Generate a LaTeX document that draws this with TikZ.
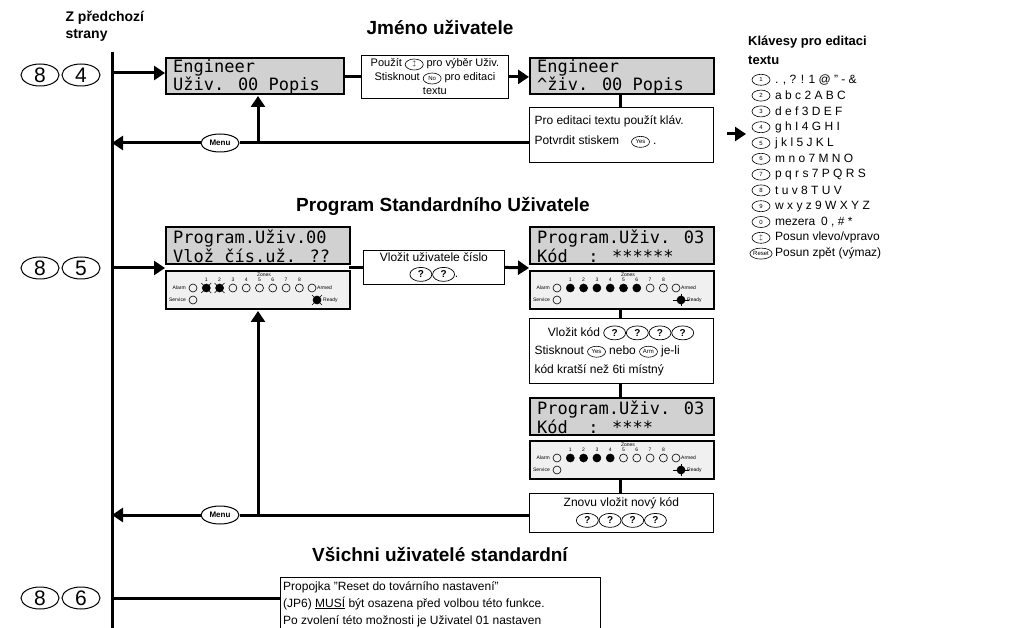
\documentclass[tikz,border=0pt]{standalone}
\usepackage{fontspec}
\setmainfont{Liberation Sans}
\newfontfamily\lcdfont{DejaVu Sans Mono}
\usetikzlibrary{shapes.geometric,arrows.meta}
\tikzset{
 lcd/.style={draw,line width=1.6pt,fill=black!18,anchor=north west,inner sep=0pt},
 panel/.style={draw,line width=1.6pt,fill=black!6,inner sep=0pt},
 tbox/.style={draw,line width=0.8pt,fill=white,inner sep=2pt,font=\fontsize{12}{15}\selectfont},
 flow/.style={line width=3pt},
 arr/.style={flow,-{Triangle[length=11pt,width=14pt]}},
 bigkey/.style={ellipse,draw,line width=1pt,minimum width=38pt,minimum height=22pt,inner sep=0pt,font=\fontsize{21}{21}\selectfont},
 key/.style={ellipse,draw,line width=0.6pt,minimum width=18pt,minimum height=11pt,inner sep=0pt,font=\fontsize{6}{6}\selectfont},
 qkey/.style={ellipse,draw,line width=0.7pt,minimum width=22pt,minimum height=14pt,inner sep=0pt,font=\fontsize{10}{10}\selectfont\bfseries},
 title/.style={font=\fontsize{19}{22}\selectfont\bfseries},
 led/.style={circle,draw,line width=0.6pt,minimum size=8pt,inner sep=0pt},
 tiny/.style={font=\fontsize{5}{5}\selectfont,inner sep=0pt},
 lcdt/.style={anchor=west,inner sep=0pt,align=left,font=\lcdfont\fontsize{17}{16}\selectfont,xshift=8pt,yshift=-1pt},
}
\newcommand\kk[1]{\tikz[baseline={([yshift=-2.5pt]kq.center)}]\node[key](kq){#1};}
\newcommand\qk{\tikz[baseline={([yshift=-3.5pt]qq.center)}]\node[qkey](qq){?};}
\newcommand\ledpanel[5]{% name, x, y, zones lit, flash(1)
 \node[panel,minimum width=184pt,minimum height=38pt,anchor=north west] (#1) at (#2,#3) {};
 \begin{scope}[shift={(#2,#3)}]
  \node[tiny,anchor=east] at (21,18) {Alarm};
  \node[led] at (28,18) {};
  \node[tiny] at (99,5) {Zones};
  \foreach \i in {1,...,8}{
   \pgfmathsetmacro\xx{28+13.3*\i}
   \node[tiny] at (\xx,10) {\i};
   \ifnum\i>#4\relax \node[led] at (\xx,18) {};
   \else \node[led,fill=black] at (\xx,18) {};
    \ifnum#5=1 \draw[line width=0.5pt] (\xx-5,13)--(\xx+5,23) (\xx-5,23)--(\xx+5,13);\fi
   \fi}
  \node[led] at (147,18) {};
  \node[tiny,anchor=west] at (152,18) {Armed};
  \node[tiny,anchor=east] at (21,30) {Service};
  \node[led] at (28,30) {};
  \node[led,fill=black] at (152,30) {};
  \ifnum#5=1 \draw[line width=0.5pt] (147,25)--(157,35) (147,35)--(157,25);
  \else \draw[line width=0.5pt] (144,30)--(160,30) (152,24)--(152,36);\fi
  \node[tiny,anchor=west] at (158,30) {Ready};
 \end{scope}}
\begin{document}
\begin{tikzpicture}[x=1pt,y=-1pt]
\useasboundingbox (0,0) rectangle (1010,628);
\begin{scope}
\clip (0,0) rectangle (1010,628);
\coordinate (top) at (112,52); \coordinate (bot) at (112,640);
\draw[flow] (top)--(bot);
\node[font=\fontsize{14}{17}\selectfont\bfseries,align=left,anchor=north west] (zp) at (62,8) {Z předchozí\\strany};
% ---- section 1
\node[title] (t1) at (440,28) {Jméno uživatele};
\node[bigkey] (k8a) at (40,75) {8};
\node[bigkey] (k4) at (81,75) {4};
\node[lcd,minimum width=178pt,minimum height=36pt] (l1) at (165,57) {};
\node[lcdt] at (l1.west) {Engineer\\Uživ. 00 Popis};
\draw[arr] (112,73) coordinate (a1) -- (l1.west|-a1);
\node[tbox,anchor=north west,minimum width=147pt,minimum height=43pt,inner sep=0pt] (b1) at (361,55) {};
\node[align=center,font=\fontsize{11}{14}\selectfont] at (b1.center) {Použít \kk{$\updownarrow$} pro výběr Uživ.\\Stisknout \kk{No} pro editaci\\textu};
\node[lcd,minimum width=184pt,minimum height=36pt] (l2) at (529,57) {};
\node[lcdt] at (l2.west) {Engineer\\\^{}živ. 00 Popis};
\draw[flow] (l1.east|-b1.west)--(b1.west);
\draw[arr] (b1.east)--(l2.west|-b1.east);
\node[tbox,anchor=north west,minimum width=184pt,minimum height=55pt,inner sep=0pt] (b2) at (529,107) {};
\node[anchor=north west,align=left,font=\fontsize{12}{20}\selectfont] at (531,112) {Pro editaci textu použít kláv.\\Potvrdit stiskem\quad \kk{Yes} .};
\draw[flow] (l2.south-|620,0)--(b2.north-|620,0);
\node[key,minimum width=38pt,minimum height=18pt,font=\fontsize{8}{8}\selectfont\bfseries,fill=white,line width=1pt] (m1) at (220,143) {Menu};
\coordinate (r1) at (529,143);
\draw[flow] (r1)--(m1.east);
\draw[arr] (m1.west)--(112,143);
\draw[arr] (258,143)--(258,96);
\draw[arr] (727,134)--(746,134);
% keys
\node[font=\fontsize{13}{19}\selectfont\bfseries,align=left,anchor=north west,inner sep=0pt] (kt) at (748,36) {Klávesy pro editaci\\textu};
\foreach \k/\t [count=\n] in {1/{. , ? ! 1 @ " - \&},2/{a b c 2 A B C},3/{d e f 3 D E F},4/{g h I 4 G H I},5/{j k l 5 J K L},6/{m n o 7 M N O},7/{p q r s 7 P Q R S},8/{t u v 8 T U V},9/{w x y z 9 W X Y Z},0/{mezera\enspace 0 , \# *},$\updownarrow$/{Posun vlevo/vpravo},Reset/{Posun zpět (výmaz)}}{
 \node[key] (kk\n) at (761,64+15.8*\n) {\k};
 \node[anchor=west,font=\fontsize{12}{12}\selectfont,inner sep=0pt] at (775,64+15.8*\n) {\t};
}
% ---- section 2
\node[title] (t2) at (443,206) {Program Standardního Uživatele};
\node[bigkey] (k8b) at (40,268) {8};
\node[bigkey] (k5) at (81,268) {5};
\node[lcd,minimum width=184pt,minimum height=37pt] (l3) at (165,226) {};
\node[lcdt] at (l3.west) {Program.Uživ.00\\Vlož čís.už. ??};
\ledpanel{p1}{165}{270}{2}{1}
\draw[arr] (112,268) coordinate (a2) -- (165,268);
\node[tbox,anchor=north west,minimum width=141pt,minimum height=34pt,inner sep=0pt] (b3) at (363,250) {};
\node[align=center,font=\fontsize{12}{16}\selectfont] at (b3.center) {Vložit uživatele číslo\\\qk\qk.};
\draw[flow] (349,268)--(363,268);
\node[lcd,minimum width=184pt,minimum height=37pt] (l4) at (529,226) {};
\node[lcdt] at (l4.west) {Program.Uživ. 03\\Kód\ \ : ******};
\ledpanel{p2}{529}{270}{6}{0}
\draw[arr] (b3.east)--(529,268);
\node[tbox,anchor=north west,minimum width=184pt,minimum height=65pt,inner sep=0pt] (b4) at (529,318) {};
\node[anchor=north,font=\fontsize{12}{12}\selectfont] at (621,322) {Vložit kód \qk\qk\qk\qk};
\node[anchor=north west,align=left,font=\fontsize{12}{19}\selectfont] at (531,342) {Stisknout \kk{Yes} nebo \kk{Arm} je-li\\ kód kratší než 6ti místný};
\draw[flow] (620,308)--(b4.north-|620,0);
\node[lcd,minimum width=184pt,minimum height=37pt] (l5) at (529,397) {};
\node[lcdt] at (l5.west) {Program.Uživ. 03\\Kód\ \ : ****};
\draw[flow] (b4.south-|620,0)--(l5.north-|620,0);
\ledpanel{p3}{529}{440}{4}{0}
\node[tbox,anchor=north west,minimum width=184pt,minimum height=39pt,inner sep=0pt] (b5) at (529,493) {};
\node[align=center,font=\fontsize{12}{17}\selectfont] at (b5.center) {Znovu vložit nový kód\\\qk\qk\qk\qk};
\draw[flow] (620,478)--(b5.north-|620,0);
\node[key,minimum width=38pt,minimum height=18pt,font=\fontsize{8}{8}\selectfont\bfseries,fill=white,line width=1pt] (m2) at (220,515) {Menu};
\draw[flow] (529,515)--(m2.east);
\draw[arr] (m2.west)--(112,515);
\draw[arr] (258,515)--(258,311);
% ---- section 3
\node[title] (t3) at (440,554) {Všichni uživatelé standardní};
\node[bigkey] (k8c) at (40,598) {8};
\node[bigkey] (k6) at (81,598) {6};
\node[tbox,anchor=north west,minimum width=320pt,minimum height=70pt,inner sep=0pt] (b6) at (280,577) {};
\draw[flow] (112,598)--(280,598);
\node[anchor=north west,align=left,font=\fontsize{12}{17}\selectfont,inner sep=0pt] at (283,581) {Propojka "Reset do továrního nastavení"\\(JP6) \underline{MUSÍ} být osazena před volbou této funkce.\\Po zvolení této možnosti je Uživatel 01 nastaven};
\end{scope}
\end{tikzpicture}
\end{document}
